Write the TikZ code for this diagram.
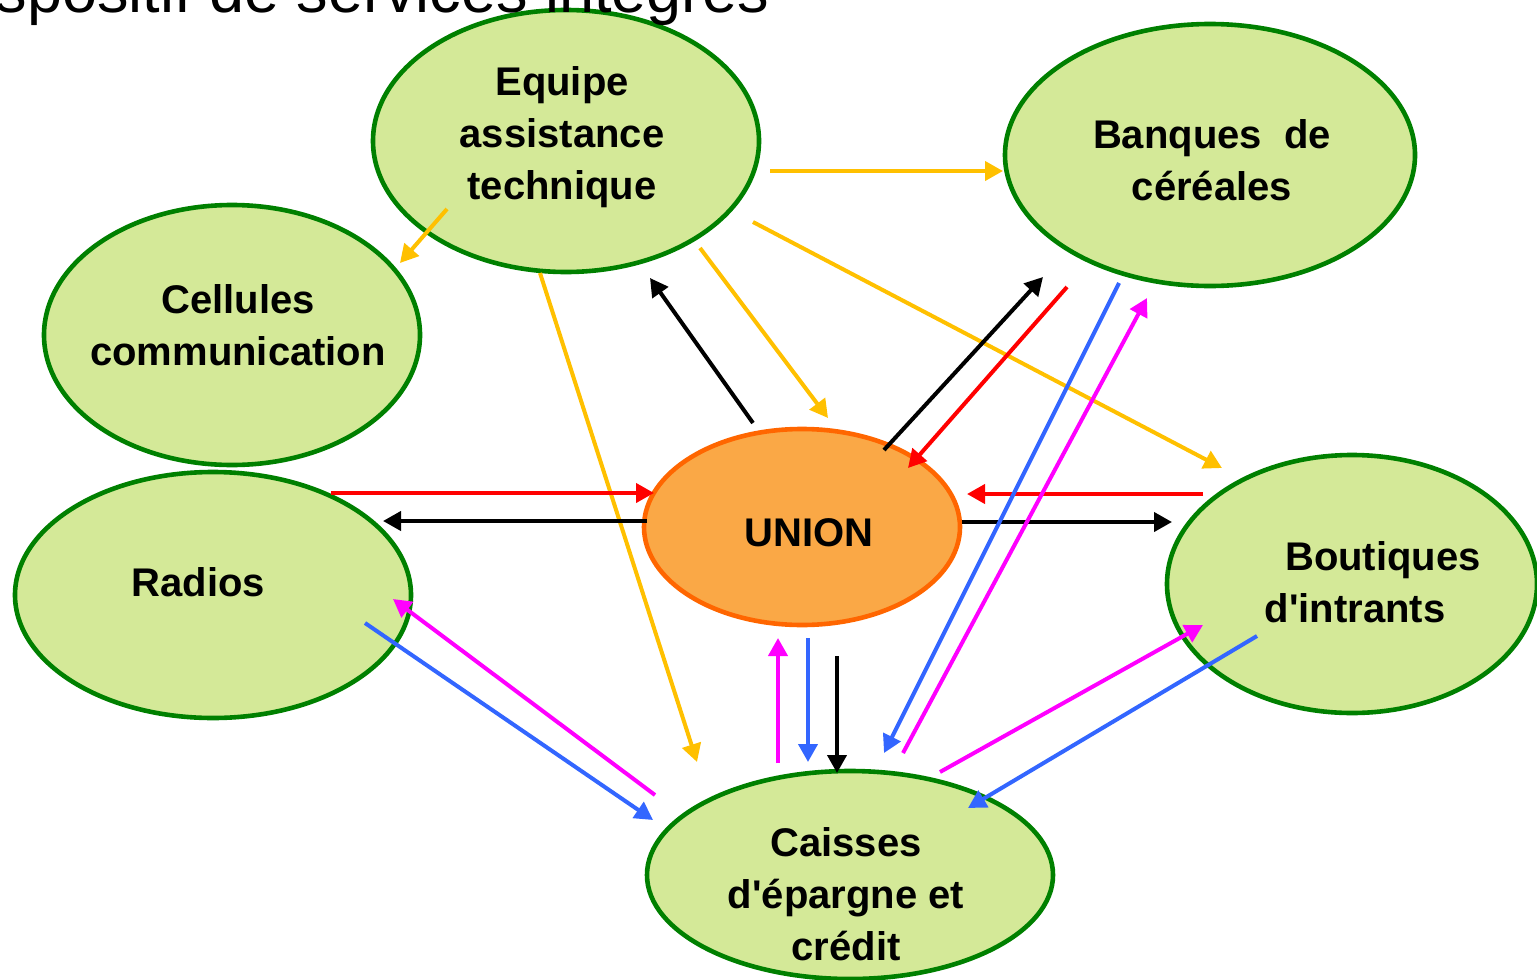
\documentclass[tikz,border=0pt]{standalone}
\usepackage{fontspec}
\setmainfont{Liberation Sans}[Ligatures=TeXOff]
\usepackage{xcolor}
\usepackage{tikz}
\usetikzlibrary{arrows.meta}
\usetikzlibrary{shapes.geometric}

\definecolor{bubbleedge}{RGB}{0,128,0}
\definecolor{bubblefill}{RGB}{212,233,152}
\definecolor{unionedge}{RGB}{255,102,0}
\definecolor{unionfill}{RGB}{250,168,70}
\definecolor{arrowgold}{RGB}{255,192,0}
\definecolor{arrowred}{RGB}{255,0,0}
\definecolor{arrowblue}{RGB}{51,102,255}
\definecolor{arrowpink}{RGB}{255,0,255}

\begin{document}
\begin{tikzpicture}[
        x=0.5pt,
        y=-0.5pt,
        bubble/.style={
            ellipse,
            draw=bubbleedge,
            fill=bubblefill,
            line width=2.3pt,
            inner sep=0pt
        },
        bubbletext/.style={
            font=\fontsize{20}{26}\selectfont\bfseries,
            align=center,
            inner sep=0pt
        },
        line/.style={
            draw,
            line width=2pt,
            -{Triangle[length=9pt,width=9.5pt]}
        },
        ]

        \useasboundingbox (0,0) rectangle (1537,980);

        \node [bubble,minimum width=193pt,minimum height=131pt,
            label={[bubbletext,xshift=-2pt,yshift=1.8pt]center:Equipe\\assistance\\technique}] (equipe) at (566,141) {};
        \node [bubble,minimum width=205pt,minimum height=131pt,
            label={[bubbletext,xshift=1pt,yshift=-2.5pt]center:Banques\ \ de\\céréales}] (banques) at (1210,155) {};
        \node [bubble,minimum width=188pt,minimum height=130pt,
            label={[bubbletext,xshift=3pt,yshift=5pt]center:Cellules\\communication}] (cellules) at (232,335) {};
        \node [bubble,minimum width=198pt,minimum height=123pt,
            label={[bubbletext,xshift=-7.25pt,yshift=6.25pt]center:Radios}] (radios) at (213,595) {};
        \node [bubble,draw=unionedge,fill=unionfill,minimum width=158pt,minimum height=98pt,
            label={[bubbletext,xshift=3.5pt,yshift=-3pt]center:UNION}] (union) at (802,527) {};
        \node [bubble,minimum width=185pt,minimum height=129pt,
            label={[bubbletext,xshift=1.5pt,yshift=0.75pt]center:\hspace*{28pt}Boutiques\\d'intrants}] (boutiques) at (1352,584) {};
        \node [bubble,minimum width=203pt,minimum height=104pt,
            label={[bubbletext,xshift=-2pt,yshift=-9.5pt]center:Caisses\\d'épargne et\\crédit}] (caisses) at (850,875) {};

        % arrow ends
        \coordinate (eq-ba-t) at (770,171);
        \coordinate (eq-ba-h) at (1003,171);
        \coordinate (eq-ce-t) at (447,209);
        \coordinate (eq-ce-h) at (400,263);
        \coordinate (eq-un-t) at (700,248);
        \coordinate (eq-un-h) at (828,418);
        \coordinate (eq-bo-t) at (753,222);
        \coordinate (eq-bo-h) at (1222,468);
        \coordinate (eq-ca-t) at (540,273);
        \coordinate (eq-ca-h) at (697,762);

        \coordinate (un-eq-t) at (753,423);
        \coordinate (un-eq-h) at (650,278);
        \coordinate (un-ba-t) at (884,450);
        \coordinate (un-ba-h) at (1043,277);
        \coordinate (un-ra-t) at (647,521);
        \coordinate (un-ra-h) at (383,521);
        \coordinate (un-bo-t) at (962,522);
        \coordinate (un-bo-h) at (1172,522);
        \coordinate (un-ca-t) at (837,656);
        \coordinate (un-ca-h) at (837,773);

        \coordinate (ba-un-t) at (1067,287);
        \coordinate (ba-un-h) at (908,468);
        \coordinate (ra-un-t) at (331,493);
        \coordinate (ra-un-h) at (654,493);
        \coordinate (bo-un-t) at (1203,494);
        \coordinate (bo-un-h) at (967,494);

        \coordinate (ba-ca-t) at (1119,283);
        \coordinate (ba-ca-h) at (884,753);
        \coordinate (un-ca2-t) at (808,638);
        \coordinate (un-ca2-h) at (808,762);
        \coordinate (ra-ca-t) at (365,623);
        \coordinate (ra-ca-h) at (653,820);
        \coordinate (bo-ca-t) at (1257,636);
        \coordinate (bo-ca-h) at (968,808);

        \coordinate (ca-ba-t) at (903,753);
        \coordinate (ca-ba-h) at (1147,298);
        \coordinate (ca-un-t) at (778,763);
        \coordinate (ca-un-h) at (778,638);
        \coordinate (ca-ra-t) at (655,795);
        \coordinate (ca-ra-h) at (393,599);
        \coordinate (ca-bo-t) at (940,772);
        \coordinate (ca-bo-h) at (1203,625);

        % from equipe
        \path [line,arrowgold] (eq-ba-t) -- (eq-ba-h);
        \path [line,arrowgold] (eq-ce-t) -- (eq-ce-h);
        \path [line,arrowgold] (eq-un-t) -- (eq-un-h);
        \path [line,arrowgold] (eq-bo-t) -- (eq-bo-h);
        \path [line,arrowgold] (eq-ca-t) -- (eq-ca-h);

        % from union
        \path [line] (un-eq-t) -- (un-eq-h);
        \path [line] (un-ba-t) -- (un-ba-h);
        \path [line] (un-ra-t) -- (un-ra-h);
        \path [line] (un-bo-t) -- (un-bo-h);
        \path [line] (un-ca-t) -- (un-ca-h);

        % to union
        \path [line,arrowred] (ba-un-t) -- (ba-un-h);
        \path [line,arrowred] (ra-un-t) -- (ra-un-h);
        \path [line,arrowred] (bo-un-t) -- (bo-un-h);

        % to caisses
        \path [line,arrowblue] (ba-ca-t) -- (ba-ca-h);
        \path [line,arrowblue] (un-ca2-t) -- (un-ca2-h);
        \path [line,arrowblue] (ra-ca-t) -- (ra-ca-h);
        \path [line,arrowblue] (bo-ca-t) -- (bo-ca-h);

        % from caisses
        \path [line,arrowpink] (ca-ba-t) -- (ca-ba-h);
        \path [line,arrowpink] (ca-un-t) -- (ca-un-h);
        \path [line,arrowpink] (ca-ra-t) -- (ca-ra-h);
        \path [line,arrowpink] (ca-bo-t) -- (ca-bo-h);

        \node [anchor=base east,inner sep=0pt,font=\fontsize{31.5}{36}\selectfont] (title) at (770,12) {spositif de services intégrés};
    \end{tikzpicture}
\end{document}
